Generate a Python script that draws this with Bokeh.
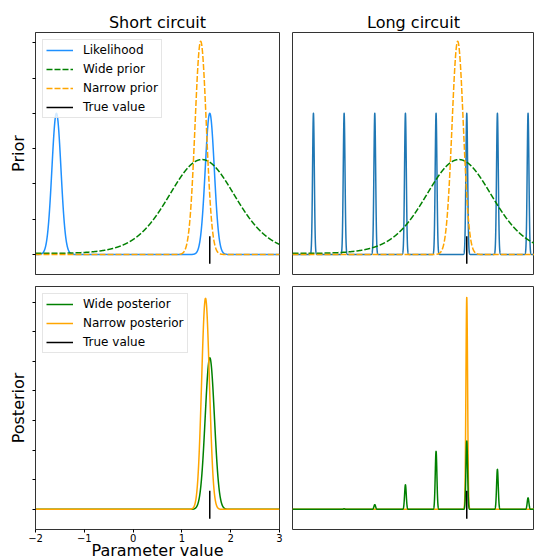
import numpy as np
from bokeh.plotting import figure
from bokeh.layouts import column, row
from bokeh.models import Range1d, FixedTicker, CustomLabelingPolicy
from bokeh.embed import file_html
from bokeh.resources import INLINE

# ---------------- data ----------------
true_value = 1.571
x_ticks = [-2, -1, 0, 1, 2, 3]
x_tick_labels = ["\u22122", "\u22121", "0", "1", "2", "3"]
prior_y_ticks = [0, 1, 2, 3, 4, 5, 6]
posterior_y_ticks = [0, 1, 2, 3, 4, 5, 6, 7]

# likelihood peaks
short_lik_centers = [-1.571, 1.571]
short_lik_heights = [4.0, 4.0]
short_lik_width = 0.093
long_lik_centers = [-1.571, -0.942, -0.314, 0.314, 0.942, 1.571, 2.199, 2.827]
long_lik_heights = [4.0, 4.0, 4.0, 4.0, 4.0, 4.0, 4.0, 4.0]
long_lik_width = 0.018

# priors
wide_prior_center = 1.41
wide_prior_height = 2.69
wide_prior_concentration = 2.2
narrow_prior_center = 1.385
narrow_prior_height = 6.04
narrow_prior_width = 0.116

# posteriors, short circuit
short_wide_post_center = 1.572
short_wide_post_height = 5.12
short_wide_post_width = 0.095
short_narrow_post_center = 1.484
short_narrow_post_height = 7.13
short_narrow_post_width = 0.080

# posteriors, long circuit (peaks at the long likelihood centres)
long_wide_post_heights = [0.0, 0.02, 0.16, 0.83, 1.96, 2.31, 1.35, 0.39]
long_narrow_post_heights = [0.0, 0.0, 0.0, 0.0, 0.0, 7.16, 0.0, 0.0]
long_post_width = 0.017

# short vertical "true value" marks
prior_true_span = [-0.26, 0.52]
posterior_true_span = [-0.32, 0.63]

# axis limits
x_limits = [-2.0, 3.0]
prior_y_limits = [-0.567, 6.29]
posterior_y_limits = [-0.68, 7.53]

# ---------------- curves ----------------
xs = np.linspace(x_limits[0], x_limits[1], 5001)


def peaks(centers, heights, width):
    y = np.zeros_like(xs)
    for c, h in zip(centers, heights):
        y += h * np.exp(-(xs - c) ** 2 / (2 * width ** 2))
    return y


short_lik = peaks(short_lik_centers, short_lik_heights, short_lik_width)
long_lik = peaks(long_lik_centers, long_lik_heights, long_lik_width)
wide_prior = wide_prior_height * np.exp(
    wide_prior_concentration * (np.cos(xs - wide_prior_center) - 1))
narrow_prior = peaks([narrow_prior_center], [narrow_prior_height], narrow_prior_width)
short_wide_post = peaks([short_wide_post_center], [short_wide_post_height], short_wide_post_width)
short_narrow_post = peaks([short_narrow_post_center], [short_narrow_post_height], short_narrow_post_width)
long_wide_post = peaks(long_lik_centers, long_wide_post_heights, long_post_width)
long_narrow_post = peaks(long_lik_centers, long_narrow_post_heights, long_post_width)

# ---------------- styling ----------------
FONT = "DejaVu Sans"
FRAME_COL = "#333333"
C_LIK_SHORT = "#1E90FF"
C_LIK_LONG = "#1f77b4"
C_GREEN = "#008000"
C_ORANGE = "#FFA500"

LEFT_FW, RIGHT_FW = 244, 242
TOP_FH, BOT_FH = 242, 243
right_x_end = x_limits[0] + (x_limits[1] - x_limits[0]) * RIGHT_FW / LEFT_FW


def make_fig(fw, fh, bl, br, bt, bb, xr, yr, title=None, xaxis=False, yaxis=False):
    p = figure(frame_width=fw, frame_height=fh,
               x_range=Range1d(*xr), y_range=Range1d(*yr),
               output_backend="svg", toolbar_location=None,
               x_axis_location="below" if xaxis else None,
               y_axis_location="left" if yaxis else None,
               min_border_left=bl, min_border_right=br,
               min_border_top=bt, min_border_bottom=bb,
               title=title)
    p.grid.visible = False
    p.outline_line_color = FRAME_COL
    p.outline_line_width = 1
    p.background_fill_color = "white"
    p.border_fill_color = "white"
    if title is not None:
        p.title.text_font = FONT
        p.title.text_font_size = "16px"
        p.title.text_font_style = "normal"
        p.title.text_color = "black"
        p.title.align = "center"
        p.title.standoff = 1
    return p


def style_yaxis(p, ticks, label):
    ax = p.yaxis[0]
    ax.ticker = FixedTicker(ticks=ticks)
    ax.major_label_policy = CustomLabelingPolicy(code="return new Set()")
    ax.major_label_text_font_size = "0px"
    ax.major_label_standoff = 0
    ax.major_tick_out = 3
    ax.major_tick_in = 0
    ax.minor_tick_out = 0
    ax.minor_tick_in = 0
    ax.major_tick_line_color = "black"
    ax.axis_line_color = FRAME_COL
    ax.axis_label = label
    ax.axis_label_text_font = FONT
    ax.axis_label_text_font_size = "16px"
    ax.axis_label_text_font_style = "normal"
    ax.axis_label_text_color = "black"
    ax.axis_label_standoff = 5


def style_legend(p):
    lg = p.legend[0]
    lg.location = "top_left"
    lg.margin = 7
    lg.padding = 3
    lg.spacing = 5
    lg.glyph_width = 27
    lg.glyph_height = 14
    lg.label_height = 14
    lg.label_standoff = 10
    lg.label_text_font = FONT
    lg.label_text_font_size = "12px"
    lg.label_text_color = "black"
    lg.border_line_color = "#cccccc"
    lg.border_line_width = 1
    lg.background_fill_color = "white"
    lg.background_fill_alpha = 0.8


LW = 1.5
TLW = 1.5
DASH = "6 2"

# ---- top-left: short circuit prior ----
p1 = make_fig(LEFT_FW, TOP_FH, 35, 6, 32, 6, x_limits, prior_y_limits,
              title="Short circuit", yaxis=True)
p1.line(xs, short_lik, line_color=C_LIK_SHORT, line_width=LW, line_join="round",
        legend_label="Likelihood")
p1.line(xs, wide_prior, line_color=C_GREEN, line_width=LW, line_dash=DASH,
        legend_label="Wide prior")
p1.line(xs, narrow_prior, line_color=C_ORANGE, line_width=LW, line_dash=DASH,
        line_join="round", legend_label="Narrow prior")
p1.line([true_value, true_value], prior_true_span, line_color="black", line_width=TLW,
        legend_label="True value")
style_yaxis(p1, prior_y_ticks, "Prior")
style_legend(p1)

# ---- top-right: long circuit prior ----
p2 = make_fig(RIGHT_FW, TOP_FH, 7, 0, 32, 6, [x_limits[0], right_x_end], prior_y_limits,
              title="Long circuit")
p2.line(xs, long_lik, line_color=C_LIK_LONG, line_width=LW, line_join="round")
p2.line(xs, wide_prior, line_color=C_GREEN, line_width=LW, line_dash=DASH)
p2.line(xs, narrow_prior, line_color=C_ORANGE, line_width=LW, line_dash=DASH,
        line_join="round")
p2.line([true_value, true_value], prior_true_span, line_color="black", line_width=TLW)

# ---- bottom-left: short circuit posterior ----
p3 = make_fig(LEFT_FW, BOT_FH, 35, 6, 6, 31, x_limits, posterior_y_limits,
              xaxis=True, yaxis=True)
p3.line(xs, short_wide_post, line_color=C_GREEN, line_width=LW, line_join="round",
        legend_label="Wide posterior")
p3.line(xs, short_narrow_post, line_color=C_ORANGE, line_width=LW, line_join="round",
        legend_label="Narrow posterior")
p3.line([true_value, true_value], posterior_true_span, line_color="black", line_width=TLW,
        legend_label="True value")
style_yaxis(p3, posterior_y_ticks, "Posterior")
style_legend(p3)
xa = p3.xaxis[0]
xa.ticker = FixedTicker(ticks=x_ticks)
xa.major_label_overrides = {t: s for t, s in zip(x_ticks, x_tick_labels)}
xa.major_label_text_font = FONT
xa.major_label_text_font_size = "10px"
xa.major_label_text_color = "black"
xa.major_label_standoff = 1
xa.major_tick_out = 3
xa.major_tick_in = 0
xa.minor_tick_out = 0
xa.minor_tick_in = 0
xa.major_tick_line_color = "black"
xa.axis_line_color = FRAME_COL
xa.axis_label = "Parameter value"
xa.axis_label_text_font = FONT
xa.axis_label_text_font_size = "16px"
xa.axis_label_text_font_style = "normal"
xa.axis_label_text_color = "black"
xa.axis_label_standoff = -4

# ---- bottom-right: long circuit posterior ----
p4 = make_fig(RIGHT_FW, BOT_FH, 7, 0, 6, 31, [x_limits[0], right_x_end], posterior_y_limits)
p4.line(xs, long_narrow_post, line_color=C_ORANGE, line_width=LW, line_join="round")
p4.line(xs, long_wide_post, line_color=C_GREEN, line_width=LW, line_join="round")
p4.line([true_value, true_value], posterior_true_span, line_color="black", line_width=TLW)

layout = column(row(p1, p2), row(p3, p4))
open("out.html", "w").write(file_html(layout, INLINE))
